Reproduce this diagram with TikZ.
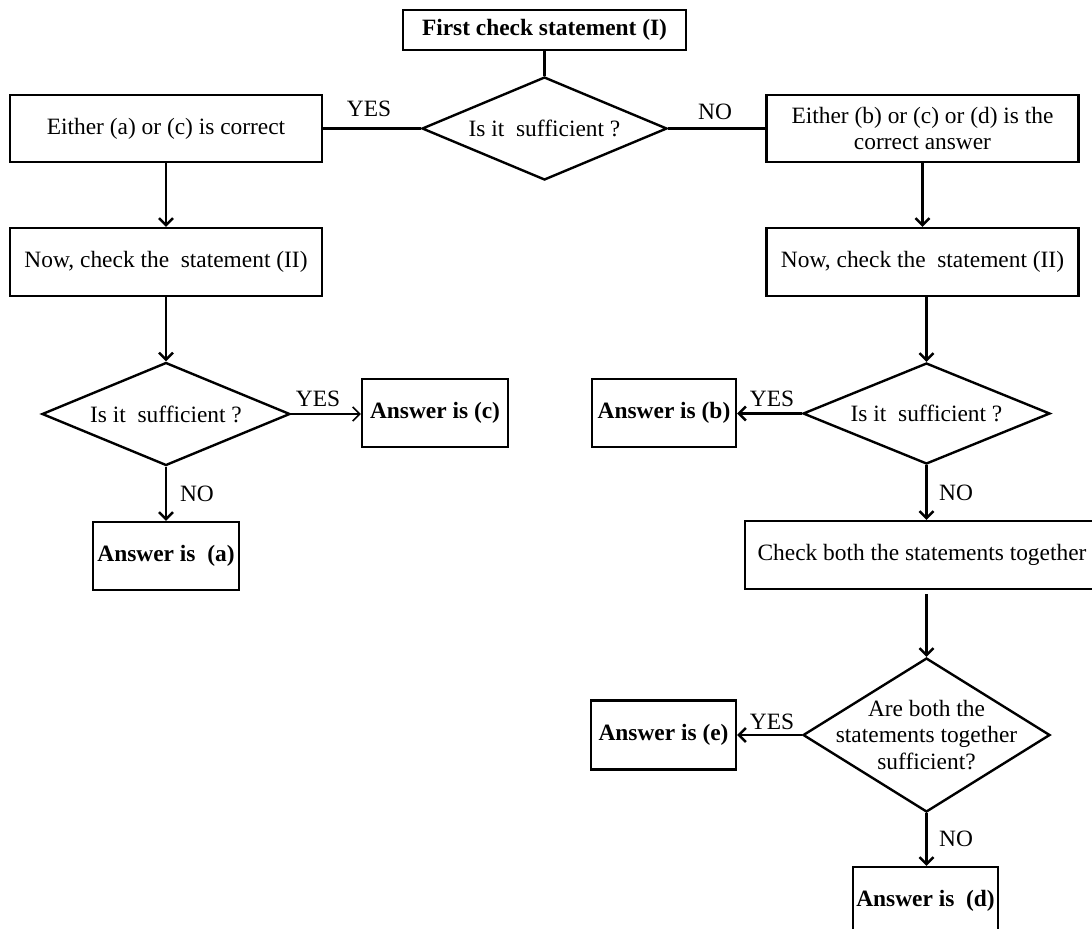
\documentclass[tikz,border=0pt]{standalone}
\usepackage{fontspec}
\setmainfont{Liberation Serif}
\usetikzlibrary{shapes.geometric,arrows.meta}
\begin{document}
\begin{tikzpicture}[x=0.5pt,y=-0.5pt,
  every node/.style={font=\fontsize{11.7}{13.3}\selectfont},
  strong/.style={font=\fontsize{11.7}{13.3}\selectfont\bfseries},
  box/.style={draw,line width=1.2pt,rectangle,inner sep=0pt,align=center},
  dia/.style={draw,line width=1.2pt,diamond,inner sep=0pt},
  conn/.style={line width=1.2pt},
  arr/.style={line width=1.2pt,-{Straight Barb[length=3.5pt,width=7pt]}},
  thinarr/.style={line width=0.8pt,-{Straight Barb[length=3.5pt,width=7pt]}},
  lab/.style={inner sep=0pt}
]
\useasboundingbox[fill=white] (0,0) rectangle (1092,928);

% boxes
\node[box,strong,minimum width=141.5pt,minimum height=20pt] (top) at (544.5,30) {First check statement (I)};
\node[box,minimum width=156pt,minimum height=33.5pt] (l1) at (166,128.5) {Either (a) or (c) is correct};
\node[box,minimum width=156pt,minimum height=33.5pt] (r1) at (922.5,128.5) {Either (b) or (c) or (d) is the\\correct answer};
\node[box,minimum width=156pt,minimum height=34pt] (l2) at (166,262) {Now, check the~ statement (II)};
\node[box,minimum width=156pt,minimum height=34pt] (r2) at (922.5,262) {Now, check the~ statement (II)};
\node[box,strong,minimum width=73pt,minimum height=34pt] (ac) at (435,413) {Answer is (c)};
\node[box,strong,minimum width=73pt,minimum height=34pt] (aa) at (166,556) {Answer is~ (a)};
\node[box,strong,minimum width=72pt,minimum height=34pt] (ab) at (664,413) {Answer is (b)};
\node[box,minimum width=177pt,minimum height=34pt] (ck) at (922,555) {Check both the statements together};
\node[box,strong,minimum width=72.5pt,minimum height=34.5pt] (ae) at (663.5,735) {Answer is (e)};
\node[box,strong,minimum width=72.5pt,minimum height=34pt] (ad) at (925.5,901) {Answer is~ (d)};

% diamonds
\node[dia,minimum width=122.5pt,minimum height=51.5pt,
  label={[lab]center:Is it~ sufficient ?}] (d1) at (544.5,128.5) {};
\node[dia,minimum width=124pt,minimum height=51.5pt,
  label={[lab]center:Is it~ sufficient ?}] (d2) at (166,414) {};
\node[dia,minimum width=123.5pt,minimum height=50.5pt,
  label={[lab]center:Is it~ sufficient ?}] (d3) at (926.5,413.5) {};
\node[dia,minimum width=123.5pt,minimum height=77pt,
  label={[lab,align=center]center:Are both the\\statements together\\sufficient?}] (d4) at (926.5,735) {};

% connectors
\draw[conn] (top.south) -- (d1.north);
\draw[conn] (d1.west) -- (d1.west -| l1.east);
\draw[conn] (d1.east) -- (d1.east -| r1.west);
\draw[arr] (l1.south) -- (l2.north);
\draw[arr] (r1.south) -- (r2.north);
\draw[arr] (l2.south) -- (d2.north);
\draw[arr] (d3.north |- r2.south) -- (d3.north);
\draw[thinarr] (d2.east) -- (d2.east -| ac.west);
\draw[arr] (d2.south) -- (aa.north);
\draw[arr] (d3.west) -- (d3.west -| ab.east);
\draw[arr] (d3.south) -- (d3.south |- ck.north);
\draw[arr] ([yshift=-2pt]d4.north |- ck.south) -- (d4.north);
\draw[arr] (d4.west) -- (d4.west -| ae.east);
\draw[arr] (d4.south) -- (d4.south |- ad.north);

% labels
\node[lab] (y1) at (369,109) {YES};
\node[lab] (n1) at (715,112) {NO};
\node[lab] (y2) at (318,399) {YES};
\node[lab] (n2) at (197,494) {NO};
\node[lab] (y3) at (772,399) {YES};
\node[lab] (n3) at (956,493) {NO};
\node[lab] (y4) at (772,722) {YES};
\node[lab] (n4) at (956,839) {NO};
\end{tikzpicture}
\end{document}
